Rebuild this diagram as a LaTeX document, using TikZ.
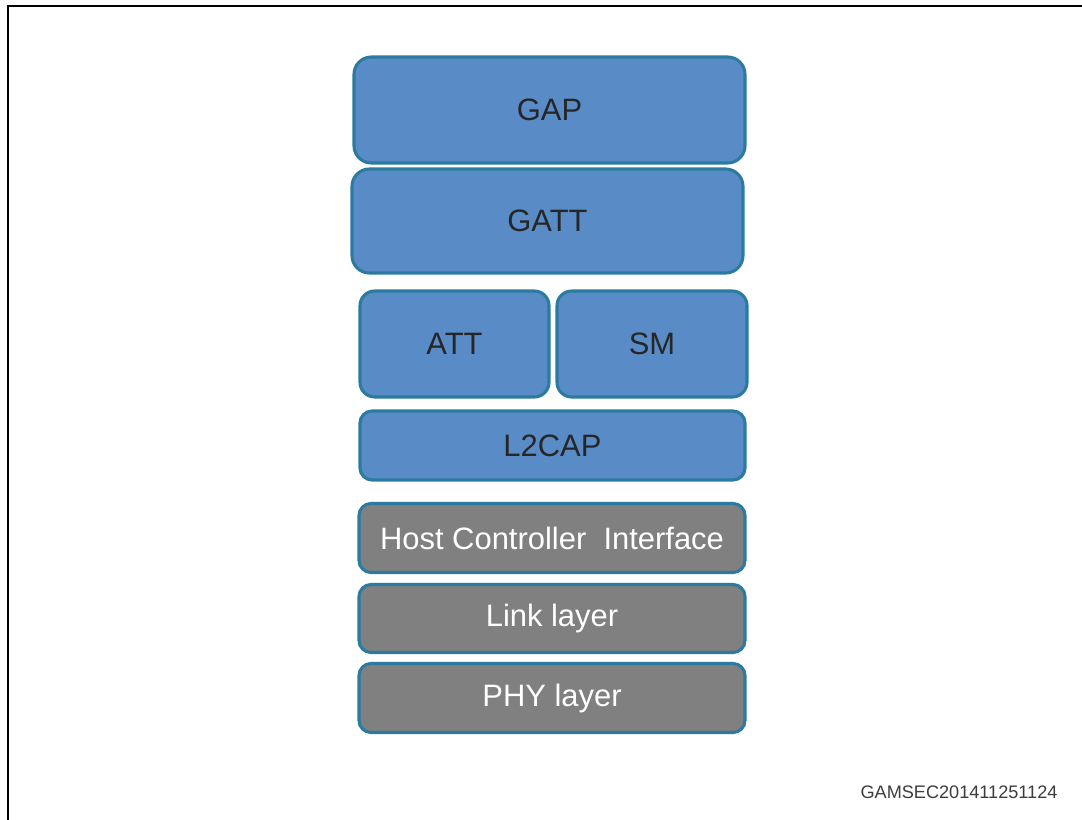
\documentclass[tikz,border=0pt]{standalone}
\usepackage{fontspec}
\setmainfont{Liberation Sans}
\definecolor{boxblue}{HTML}{598BC7}
\definecolor{boxedge}{HTML}{2B7AA0}
\definecolor{boxgray}{HTML}{808080}
\definecolor{txtdark}{HTML}{262626}
\begin{document}
\begin{tikzpicture}[x=0.75pt,y=-0.75pt,
  layer/.style={draw=boxedge, line width=2.3pt, rounded corners=13pt, inner sep=0pt,
    font=\fontsize{23.2}{28}\selectfont},
  bluebox/.style={layer, fill=boxblue, text=txtdark},
  graybox/.style={layer, fill=boxgray, text=white},
  sz/.style 2 args={minimum width=#1*0.75pt, minimum height=#2*0.75pt}]
\useasboundingbox (0,0) rectangle (1082,820);
\draw[line width=2pt] (8,820) -- (8,6) -- (1082,6);
\node[bluebox, sz={391}{106}] (gap) at (549.5,110) {GAP};
\node[bluebox, sz={391}{104}] (gatt) at (547.5,221) {GATT};
\node[bluebox, sz={189}{106}, rounded corners=11pt] (att) at (454.5,344) {ATT};
\node[bluebox, sz={190}{106}, rounded corners=11pt] (sm) at (652,344) {SM};
\node[bluebox, sz={385}{69}, rounded corners=9pt] (l2cap) at (552.5,445.5) {L2CAP};
\node[graybox, sz={386}{69}, rounded corners=9pt] (hci) at (552,538) {Host Controller\ \ Interface};
\node[graybox, sz={386}{68}, rounded corners=9pt] (link) at (552,618.5) {Link layer};
\node[graybox, sz={386}{69}, rounded corners=9pt] (phy) at (552,698) {PHY layer};
\node[text=txtdark!90, font=\fontsize{13.6}{16}\selectfont] (id) at (959,792) {GAMSEC201411251124};
\end{tikzpicture}
\end{document}
